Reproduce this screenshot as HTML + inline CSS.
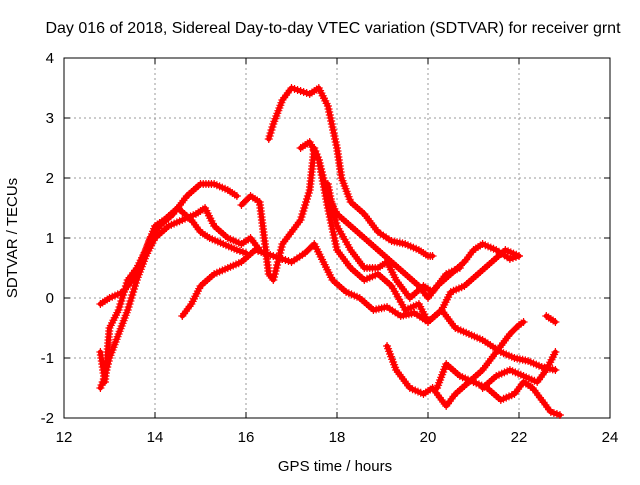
<!DOCTYPE html>
<html><head><meta charset="utf-8"><style>
body{margin:0;background:#fff}
svg text{font-family:"Liberation Sans",sans-serif;font-size:15px;fill:#000}
</style></head><body>
<svg id="c" width="640" height="480" xmlns="http://www.w3.org/2000/svg">
<text x="333" y="33" text-anchor="middle" style="font-size:16px">Day 016 of 2018, Sidereal Day-to-day VTEC variation (SDTVAR) for receiver grnt</text>
<text x="335" y="471" text-anchor="middle">GPS time / hours</text>
<text transform="translate(17,238) rotate(-90)" text-anchor="middle">SDTVAR / TECUs</text>
<g id="grid"></g><g id="axes"></g><g id="marks"></g>
</svg>
<script>
const xTicks=[12,14,16,18,20,22,24];
const yTicks=[-2,-1,0,1,2,3,4];
const s1=[[12.8,-1.5],[12.9,-1.3],[13.0,-1.0],[13.2,-0.6],[13.4,-0.2],[13.6,0.3],[13.8,0.7],[14.0,1.0],[14.3,1.2],[14.6,1.3],[14.9,1.4],[15.1,1.5],[15.3,1.2],[15.6,1.0],[15.9,0.9],[16.1,1.0],[16.3,0.8]];
const s2=[[12.8,-0.1],[13.0,0.0],[13.3,0.1],[13.5,0.3],[13.7,0.6],[13.9,1.0],[14.1,1.2],[14.4,1.4],[14.7,1.7],[15.0,1.9],[15.3,1.9],[15.6,1.8],[15.8,1.7]];
const s3=[[12.8,-0.9],[12.9,-1.4],[13.0,-0.5],[13.2,-0.2],[13.4,0.3],[13.6,0.5],[13.8,0.8],[14.0,1.2],[14.2,1.3],[14.5,1.5],[14.8,1.3],[15.0,1.1],[15.2,1.0],[15.5,0.9],[15.8,0.8],[16.0,0.75]];
const s4=[[14.6,-0.3],[14.8,-0.1],[15.0,0.2],[15.3,0.4],[15.6,0.5],[15.9,0.6],[16.2,0.8],[16.4,0.75],[16.6,0.7],[16.8,0.65],[17.0,0.6],[17.3,0.75],[17.5,0.9],[17.7,0.6],[17.9,0.3],[18.2,0.1],[18.5,0.0],[18.8,-0.2],[19.1,-0.15],[19.4,-0.3],[19.7,-0.25],[20.0,-0.4],[20.3,-0.2],[20.6,-0.5],[20.9,-0.6],[21.2,-0.7],[21.6,-0.9],[21.9,-1.0],[22.2,-1.05],[22.5,-1.15],[22.8,-1.2]];
const s5=[[16.5,2.65],[16.6,2.9],[16.8,3.3],[17.0,3.5],[17.2,3.45],[17.4,3.4],[17.6,3.5],[17.8,3.2],[18.0,2.5],[18.1,2.0],[18.3,1.6],[18.6,1.4],[18.9,1.1],[19.2,0.95],[19.5,0.9],[19.8,0.8],[20.0,0.7],[20.1,0.7]];
const s6=[[15.9,1.55],[16.1,1.7],[16.3,1.6],[16.5,0.4],[16.6,0.3],[16.8,0.9],[17.0,1.1],[17.2,1.3],[17.4,1.8],[17.5,2.5],[17.6,2.3],[17.8,1.5],[18.0,0.8],[18.3,0.5],[18.6,0.3],[18.9,0.4],[19.2,0.2],[19.5,-0.2],[19.8,-0.1],[20.0,-0.4],[20.3,-0.2],[20.5,0.1],[20.8,0.2],[21.1,0.4],[21.4,0.6],[21.7,0.8],[22.0,0.7]];
const s7=[[17.2,2.5],[17.4,2.6],[17.6,2.3],[17.8,1.7],[18.0,1.4],[18.3,1.2],[18.6,1.0],[18.9,0.8],[19.2,0.6],[19.5,0.4],[19.8,0.2],[20.0,0.0],[20.2,0.2],[20.5,0.4],[20.8,0.6],[21.0,0.8],[21.2,0.9],[21.5,0.8],[21.8,0.65],[22.0,0.7]];
const s8=[[19.1,-0.8],[19.3,-1.2],[19.6,-1.5],[19.9,-1.6],[20.1,-1.5],[20.3,-1.7],[20.4,-1.8],[20.6,-1.6],[20.9,-1.4],[21.2,-1.2],[21.5,-0.9],[21.8,-0.6],[22.0,-0.45],[22.1,-0.4]];
const s9=[[20.2,-1.5],[20.4,-1.1],[20.7,-1.3],[21.0,-1.4],[21.3,-1.5],[21.6,-1.7],[21.9,-1.6],[22.1,-1.4],[22.3,-1.5],[22.5,-1.7],[22.7,-1.9],[22.9,-1.95]];
const s10=[[21.2,-1.5],[21.5,-1.3],[21.8,-1.2],[22.1,-1.3],[22.4,-1.4],[22.6,-1.2],[22.8,-0.9]];
const s11=[[22.6,-0.3],[22.8,-0.4]];
const s12=[[17.8,1.9],[17.9,1.5],[18.0,1.2],[18.3,0.8],[18.6,0.5],[18.9,0.5],[19.1,0.6],[19.3,0.3],[19.6,0.0],[19.9,0.2],[20.1,0.1],[20.4,0.4],[20.7,0.5]];
const series=[s1,s2,s3,s4,s5,s6,s7,s8,s9,s10,s11,s12];
const L=64,R=610,T=58,B=418;
const X=v=>L+(v-12)/12*(R-L);
const Y=v=>B-(v+2)/6*(B-T);
const NS="http://www.w3.org/2000/svg";
function mk(t,a,p){const e=document.createElementNS(NS,t);for(const k in a)e.setAttribute(k,a[k]);p.appendChild(e);return e;}
const grid=document.getElementById('grid'),axes=document.getElementById('axes'),marks=document.getElementById('marks');
xTicks.forEach(t=>{const x=X(t);
 if(t>12&&t<24){const g=mk('line',{x1:x,x2:x,y1:T,y2:B,stroke:'#999','stroke-dasharray':'2,3'},grid);}
 mk('line',{x1:x,x2:x,y1:B,y2:B-6,stroke:'#000'},axes);mk('line',{x1:x,x2:x,y1:T,y2:T+6,stroke:'#000'},axes);
 const tx=mk('text',{x:x,y:B+24,'text-anchor':'middle'},axes);tx.textContent=t;
 });
yTicks.forEach(t=>{const y=Y(t);
 if(t>-2&&t<4){const g=mk('line',{x1:L,x2:R,y1:y,y2:y,stroke:'#999','stroke-dasharray':'2,3'},grid);}
 mk('line',{x1:L,x2:L+6,y1:y,y2:y,stroke:'#000'},axes);mk('line',{x1:R,x2:R-6,y1:y,y2:y,stroke:'#000'},axes);
 const tx=mk('text',{x:L-10,y:y+5,'text-anchor':'end'},axes);tx.textContent=t;
 });
const fr=mk('rect',{x:L,y:T,width:R-L,height:B-T,fill:'none',stroke:'#000'},axes);


series.forEach((s,i)=>{
 const g=mk('g',{},marks);
 
 
 mk('polyline',{points:s.map(p=>X(p[0])+','+Y(p[1])).join(' '),fill:'none',stroke:'#f00','stroke-width':5,'stroke-linejoin':'round','stroke-linecap':'round'},g);
 let d='';
 for(let k=0;k<s.length-1;k++){
  const x0=X(s[k][0]),y0=Y(s[k][1]),x1=X(s[k+1][0]),y1=Y(s[k+1][1]);
  const n=Math.max(1,Math.round(Math.hypot(x1-x0,y1-y0)/3));
  for(let j=0;j<=n;j++){const x=x0+(x1-x0)*j/n,y=y0+(y1-y0)*j/n;d+=`M${x-4},${y}H${x+4}M${x},${y-4}V${y+4}`;}
 }
 const m=mk('path',{d:d,stroke:'#f00','stroke-width':1.2,fill:'none'},g);
 
 
});
</script>
</body></html>
